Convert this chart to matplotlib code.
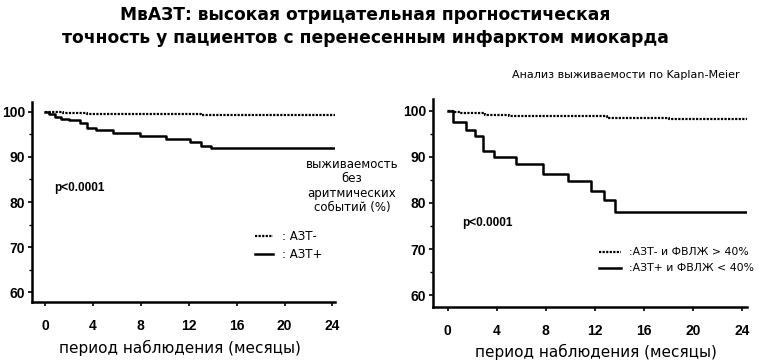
import matplotlib
matplotlib.use("Agg")
import matplotlib.pyplot as plt
from matplotlib.ticker import MultipleLocator

# ---- data ----
x_ticks = [0, 4, 8, 12, 16, 20, 24]
y_ticks = [60, 70, 80, 90, 100]

# left panel
left_neg_t = [0, 0.5, 1.5, 3.5, 6, 9, 13, 18, 24.2]
left_neg_s = [100, 99.9, 99.8, 99.65, 99.55, 99.5, 99.4, 99.3, 99.3]
left_pos_t = [0, 0.3, 0.8, 1.3, 2.0, 2.9, 3.5, 4.3, 5.7, 7.9, 10.1, 12.1, 13.0, 13.9, 24.2]
left_pos_s = [100, 99.5, 98.9, 98.5, 98.1, 97.6, 96.4, 96.0, 95.3, 94.7, 93.9, 93.4, 92.4, 91.9, 91.9]

# right panel
right_neg_t = [0, 0.4, 1.0, 3.0, 5.0, 8.0, 13.0, 18.0, 24.4]
right_neg_s = [100, 99.8, 99.6, 99.2, 99.0, 98.8, 98.5, 98.3, 98.3]
right_pos_t = [0, 0.4, 1.5, 2.2, 2.9, 3.8, 5.6, 7.8, 9.8, 11.7, 12.7, 13.6, 24.4]
right_pos_s = [100, 97.5, 95.8, 94.5, 91.4, 89.9, 88.4, 86.4, 84.8, 82.6, 80.7, 78.0, 78.0]

legend_left = [': АЗТ-', ': АЗТ+']
legend_right = [':АЗТ- и ФВЛЖ > 40%', ':АЗТ+ и ФВЛЖ < 40%']

fig = plt.figure(figsize=(7.59, 3.61), dpi=100)
H = 361.0
W = 759.0

def style(ax, xlim, ylim):
    ax.set_xlim(*xlim)
    ax.set_ylim(*ylim)
    for s in ['top', 'right']:
        ax.spines[s].set_visible(False)
    for s in ['left', 'bottom']:
        ax.spines[s].set_linewidth(1.8)
    ax.set_xticks(x_ticks)
    ax.set_yticks(y_ticks)
    ax.yaxis.set_minor_locator(MultipleLocator(5))
    ax.tick_params(axis='both', which='major', length=3, width=1.2, labelsize=10, pad=2)
    ax.tick_params(axis='y', which='minor', length=2, width=1)
    ax.tick_params(axis='x', pad=9)
    for lab in ax.get_xticklabels() + ax.get_yticklabels():
        lab.set_fontweight('bold')
        lab.set_family('Liberation Sans')

dotted = (0, (1, 0.6))

# left axes
ax1 = fig.add_axes([0.0422, 0.1634, 0.399, 0.554])
style(ax1, (-1.08, 24.2), (57.8, 102.2))
ax1.step(left_neg_t, left_neg_s, where='post', color='black', lw=1.6, ls=dotted)
ax1.step(left_pos_t, left_pos_s, where='post', color='black', lw=1.8)
ax1.text(0.8, 83.1, 'p<0.0001', fontsize=8.5, fontweight='bold', family='Liberation Sans', va='center')
ax1.plot([17.5, 19.0], [72.4, 72.4], color='black', lw=1.6, ls=dotted, clip_on=False)
ax1.plot([17.5, 19.0], [68.4, 68.4], color='black', lw=1.8, clip_on=False)
ax1.text(19.8, 72.4, legend_left[0], fontsize=8.5, va='center', family='DejaVu Sans')
ax1.text(19.8, 68.4, legend_left[1], fontsize=8.5, va='center', family='DejaVu Sans')

# right axes
ax2 = fig.add_axes([0.5705, 0.1496, 0.4137, 0.575])
style(ax2, (-1.2, 24.4), (57.4, 102.5))
ax2.step(right_neg_t, right_neg_s, where='post', color='black', lw=1.6, ls=dotted)
ax2.step(right_pos_t, right_pos_s, where='post', color='black', lw=1.8)
ax2.text(1.2, 75.7, 'p<0.0001', fontsize=8.5, fontweight='bold', family='Liberation Sans', va='center')
ax2.plot([12.3, 14.1], [69.4, 69.4], color='black', lw=1.6, ls=dotted, clip_on=False)
ax2.plot([12.3, 14.1], [65.9, 65.9], color='black', lw=1.8, clip_on=False)
ax2.text(14.8, 69.4, legend_right[0], fontsize=7.8, va='center', family='DejaVu Sans', clip_on=False)
ax2.text(14.8, 65.9, legend_right[1], fontsize=7.8, va='center', family='DejaVu Sans', clip_on=False)

# x labels
fig.text(180 / W, 1 - 348 / H, 'период наблюдения (месяцы)', ha='center', va='center',
         fontsize=11, family='DejaVu Sans')
fig.text(596 / W, 1 - 352 / H, 'период наблюдения (месяцы)', ha='center', va='center',
         fontsize=11, family='DejaVu Sans')

# y-label in the middle
fig.text(352 / W, 1 - 186 / H, 'выживаемость\nбез\nаритмических\nсобытий (%)',
         ha='center', va='center', fontsize=8.5, family='DejaVu Sans', linespacing=1.15)

# titles
fig.text(365 / W, 1 - 15 / H, 'МвАЗТ: высокая отрицательная прогностическая', ha='center', va='center',
         fontsize=12.3, fontweight='bold', family='DejaVu Sans')
fig.text(365 / W, 1 - 38 / H, 'точность у пациентов с перенесенным инфарктом миокарда', ha='center', va='center',
         fontsize=12.3, fontweight='bold', family='DejaVu Sans')
fig.text(740 / W, 1 - 75 / H, 'Анализ выживаемости по Kaplan-Meier', ha='right', va='center',
         fontsize=8, family='DejaVu Sans')

fig.savefig('out.png', dpi=100)
